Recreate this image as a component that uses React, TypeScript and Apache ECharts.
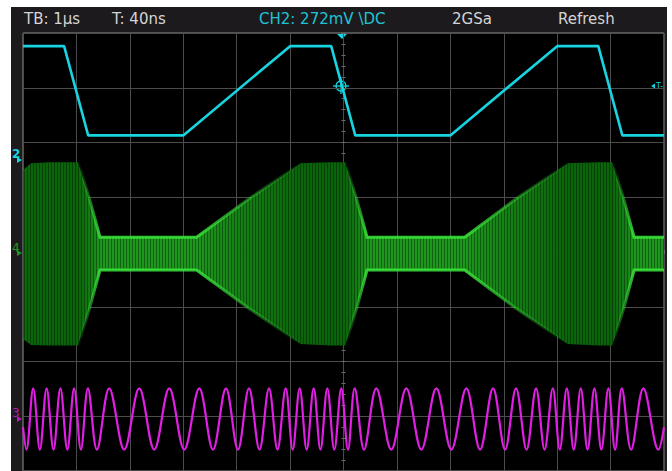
import React, { useEffect, useRef } from "react";
import * as echarts from "echarts";

// Screen header
const headerLabels = ["TB: 1µs", "T: 40ns", "CH2: 272mV \\DC", "2GSa", "Refresh"];

// Channel 2 (cyan): trapezoid breakpoints — time in µs, level in divisions
const ch2Time = [-6, -5.23, -4.78, -3.0, -1.0, -0.23, 0.22, 2.0, 4.0, 4.77, 5.22, 6];
const ch2Level = [3.76, 3.76, 2.13, 2.13, 3.76, 3.76, 2.13, 2.13, 3.76, 3.76, 2.13, 2.13];

// Channel 4 (green): envelope of the modulated carrier
const ch4Time = [-6, -5.85, -5.5, -4.97, -4.75, -4.56, -2.75, -1.8, -1.1, -0.8, -0.25, 0.03, 0.25, 0.44, 2.27, 3.2, 3.9, 4.2, 4.78, 5.03, 5.25, 5.44, 6];
const ch4Top = [1.49, 1.62, 1.64, 1.64, 0.95, 0.27, 0.27, 0.95, 1.42, 1.62, 1.64, 1.64, 0.95, 0.27, 0.27, 0.95, 1.42, 1.62, 1.64, 1.64, 0.95, 0.27, 0.27];
const ch4Bottom = [-1.58, -1.7, -1.71, -1.71, -1.01, -0.33, -0.33, -1.01, -1.48, -1.68, -1.71, -1.71, -1.01, -0.33, -0.33, -1.01, -1.48, -1.68, -1.71, -1.71, -1.01, -0.33, -0.33];

// Channel 3 (magenta): successive peaks and troughs of the swept sine
const ch3Time = [
  -6, -5.936, -5.809, -5.684, -5.558, -5.429, -5.3, -5.17, -5.043, -4.916, -4.785, -4.616,
  -4.386, -4.105, -3.824, -3.543, -3.262, -2.981, -2.7, -2.444, -2.2, -1.976, -1.77, -1.573,
  -1.395, -1.236, -1.082, -0.951, -0.82, -0.689, -0.558, -0.431, -0.303, -0.172, -0.041, 0.084,
  0.21, 0.384, 0.614, 0.895, 1.176, 1.457, 1.738, 2.019, 2.3, 2.556, 2.8, 3.024, 3.23, 3.427,
  3.605, 3.764, 3.918, 4.049, 4.18, 4.311, 4.442, 4.569, 4.697, 4.828, 4.959, 5.084, 5.21,
  5.384, 5.614, 5.895, 6,
];
const ch3Level = [
  -3.2, -3.61, -2.49, -3.61, -2.49, -3.61, -2.49, -3.61, -2.49, -3.61, -2.49, -3.61,
  -2.49, -3.61, -2.49, -3.61, -2.49, -3.61, -2.49, -3.61, -2.49, -3.61, -2.49, -3.61,
  -2.49, -3.61, -2.49, -3.61, -2.49, -3.61, -2.49, -3.61, -2.49, -3.61, -2.49, -3.61,
  -2.49, -3.61, -2.49, -3.61, -2.49, -3.61, -2.49, -3.61, -2.49, -3.61, -2.49, -3.61, -2.49, -3.61,
  -2.49, -3.61, -2.49, -3.61, -2.49, -3.61, -2.49, -3.61, -2.49, -3.61, -2.49, -3.61, -2.49,
  -3.61, -2.49, -3.61, -3.2,
];

const CYAN = "#17d4e0";
const GREEN_DIM = [10, 100, 10];
const GREEN_HOT = [28, 150, 28];
const MAGENTA = "#e11fe4";
const TEXT = "#d4d4d4";
const FONT = "'DejaVu Sans', sans-serif";

function mix(a: number[], b: number[], f: number) {
  const c = a.map((v, i) => Math.round(v + (b[i] - v) * f));
  return `rgb(${c[0]},${c[1]},${c[2]})`;
}

function stripePattern() {
  const c = document.createElement("canvas");
  c.width = 3;
  c.height = 4;
  const g = c.getContext("2d")!;
  g.fillStyle = "rgba(0,0,0,0.35)";
  g.fillRect(0, 0, 1, 4);
  return c;
}

export default function App() {
  const ref = useRef<HTMLDivElement>(null);

  useEffect(() => {
    const chart = echarts.init(ref.current!, null, { renderer: "svg" });
    const stripes = stripePattern();

    const amps = ch4Time.map((_, i) => ch4Top[i] - ch4Bottom[i]);
    const aMin = Math.min(...amps);
    const aMax = Math.max(...amps);
    const frac = (i: number) => (amps[i] - aMin) / (aMax - aMin);
    const fillStops = ch4Time.map((t, i) => ({
      offset: (t + 6) / 12,
      color: mix(GREEN_HOT, GREEN_DIM, frac(i)),
    }));
    const edgeStops = ch4Time.map((t, i) => ({
      offset: (t + 6) / 12,
      color: `rgba(60,232,60,${(0.85 * (1 - frac(i))).toFixed(2)})`,
    }));

    const tickAxis = (inside: boolean, isX: boolean) => ({
      type: "value",
      min: isX ? -6 : -4,
      max: isX ? 6 : 4,
      interval: 0.2,
      axisLine: { show: false, onZero: true, onZeroAxisIndex: 0 },
      axisTick: { show: true, inside, length: 2, lineStyle: { color: "#6e6e6e", width: 1 } },
      axisLabel: { show: false },
      splitLine: { show: false },
    });

    const mainAxis = (isX: boolean) => ({
      type: "value",
      min: isX ? -6 : -4,
      max: isX ? 6 : 4,
      interval: 1,
      axisLine: { show: false, onZero: false },
      axisTick: { show: false },
      axisLabel: { show: false },
      splitLine: { show: true, lineStyle: { color: "#4c4c4c", width: 1 } },
    });

    const headerX = [24, 112, 259, 452, 558];

    chart.setOption({
      animation: false,
      backgroundColor: "transparent",
      grid: {
        left: 23,
        top: 33,
        width: 641,
        height: 440,
        show: true,
        backgroundColor: "#000",
        borderColor: "#8e8e8e",
        borderWidth: 1,
      },
      xAxis: [mainAxis(true), tickAxis(true, true), tickAxis(false, true)],
      yAxis: [mainAxis(false), tickAxis(true, false), tickAxis(false, false)],
      series: [
        {
          type: "custom",
          name: "CH4",
          coordinateSystem: "cartesian2d",
          data: ch4Time.map((t, i) => [t, ch4Top[i], ch4Bottom[i]]),
          encode: { x: 0, y: [1, 2] },
          renderItem: (params: any, api: any) => {
            if (params.dataIndex !== 0) return null;
            const top = ch4Time.map((t, i) => api.coord([t, ch4Top[i]]));
            const bot = ch4Time.map((t, i) => api.coord([t, ch4Bottom[i]]));
            const outline = top.concat(bot.slice().reverse());
            const edge = new echarts.graphic.LinearGradient(0, 0, 1, 0, edgeStops);
            return {
              type: "group",
              children: [
                {
                  type: "polygon",
                  shape: { points: outline },
                  style: { fill: new echarts.graphic.LinearGradient(0, 0, 1, 0, fillStops) },
                },
                {
                  type: "polygon",
                  shape: { points: outline },
                  style: { fill: { image: stripes, repeat: "repeat", imageWidth: 3, imageHeight: 4 } as any },
                },
                { type: "polyline", shape: { points: top }, style: { fill: null, lineWidth: 3, stroke: edge } },
                { type: "polyline", shape: { points: bot }, style: { fill: null, lineWidth: 3, stroke: edge } },
              ],
            };
          },
          z: 2,
        },
        {
          type: "line",
          name: "CH3",
          data: ch3Time.map((t, i) => [t, ch3Level[i]]),
          smooth: 0.36,
          showSymbol: false,
          lineStyle: { color: MAGENTA, width: 2.2 },
          z: 3,
        },
        {
          type: "line",
          name: "CH2",
          data: ch2Time.map((t, i) => [t, ch2Level[i]]),
          showSymbol: false,
          lineStyle: { color: CYAN, width: 2.6 },
          z: 4,
        },
      ],
      graphic: [
        ...headerLabels.map((s, i) => ({
          type: "text",
          x: headerX[i],
          y: 19,
          style: {
            text: s,
            fill: i === 2 ? "#1ec4d6" : TEXT,
            font: `15px ${FONT}`,
            textVerticalAlign: "middle",
          },
        })),
        // trigger position marker
        { type: "polygon", shape: { points: [[337, 34], [347, 34], [342, 39]] }, style: { fill: CYAN } },
        // trigger crosshair
        { type: "circle", shape: { cx: 341, cy: 86, r: 5 }, style: { fill: null, stroke: CYAN, lineWidth: 1.3 } },
        { type: "line", shape: { x1: 333, y1: 86, x2: 349, y2: 86 }, style: { stroke: CYAN, lineWidth: 1.3 } },
        { type: "line", shape: { x1: 341, y1: 78, x2: 341, y2: 94 }, style: { stroke: CYAN, lineWidth: 1.3 } },
        // trigger level marker
        { type: "polygon", shape: { points: [[651, 86], [655, 83.5], [655, 88.5]] }, style: { fill: CYAN } },
        { type: "text", x: 656, y: 86, style: { text: "T-", fill: CYAN, font: `8px ${FONT}`, textVerticalAlign: "middle" } },
        // channel reference markers
        { type: "text", x: 12, y: 154, style: { text: "2", fill: CYAN, font: `bold 12px ${FONT}`, textVerticalAlign: "middle" } },
        { type: "polygon", shape: { points: [[17, 157], [22, 160], [17, 163]] }, style: { fill: CYAN } },
        { type: "text", x: 12, y: 248, style: { text: "4", fill: "#1c9a1c", font: `12px ${FONT}`, textVerticalAlign: "middle" } },
        { type: "polygon", shape: { points: [[17, 250], [22, 253], [17, 256]] }, style: { fill: "#1c9a1c" } },
        { type: "text", x: 12, y: 413, style: { text: "3", fill: "#b41cb8", font: `12px ${FONT}`, textVerticalAlign: "middle" } },
        { type: "polygon", shape: { points: [[17, 416], [22, 419], [17, 422]] }, style: { fill: "#b41cb8" } },
      ],
    });

    return () => chart.dispose();
  }, []);

  return (
    <div style={{ position: "fixed", left: 0, top: 0, width: 672, height: 471, background: "#fff", overflow: "hidden" }}>
      <div style={{ position: "absolute", left: 11, top: 7, width: 656, height: 464, background: "#1c1a1d" }} />
      <div ref={ref} style={{ position: "absolute", left: 0, top: 0, width: 672, height: 471 }} />
    </div>
  );
}
